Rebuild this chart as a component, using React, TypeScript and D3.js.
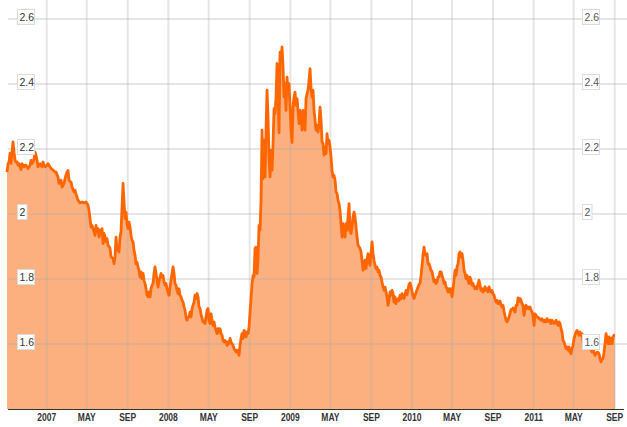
import React from "react";
import * as d3 from "d3";

// Series: one reading every 3 days starting 2006-09-04
const startDate = "2006-09-04";
const stepDays = 3;
const values: number[] = [
  2.129, 2.155, 2.16, 2.187, 2.156, 2.19, 2.222, 2.19, 2.165, 2.16,
  2.16, 2.15, 2.155, 2.145, 2.137, 2.155, 2.15, 2.145, 2.15, 2.15,
  2.145, 2.14, 2.145, 2.15, 2.165, 2.155, 2.16, 2.17, 2.19, 2.18,
  2.165, 2.145, 2.15, 2.155, 2.15, 2.145, 2.16, 2.15, 2.145, 2.148,
  2.15, 2.155, 2.15, 2.145, 2.14, 2.137, 2.135, 2.132, 2.13, 2.129,
  2.12, 2.114, 2.094, 2.1, 2.104, 2.083, 2.088, 2.094, 2.109, 2.12,
  2.129, 2.134, 2.104, 2.1, 2.098, 2.083, 2.075, 2.068, 2.073, 2.06,
  2.052, 2.042, 2.038, 2.034, 2.036, 2.037, 2.035, 2.034, 2.036, 2.037,
  2.032, 2.027, 2.011, 1.986, 1.96, 1.965, 1.955, 1.945, 1.934, 1.965,
  1.945, 1.955, 1.929, 1.95, 1.94, 1.955, 1.909, 1.94, 1.929, 1.914,
  1.924, 1.904, 1.9, 1.894, 1.868, 1.866, 1.863, 1.847, 1.868, 1.929,
  1.888, 1.898, 1.883, 1.929, 1.945, 2.022, 2.094, 2.037, 1.986, 2.006,
  1.97, 1.955, 1.975, 1.96, 1.934, 1.919, 1.914, 1.888, 1.873, 1.847,
  1.852, 1.837, 1.827, 1.806, 1.822, 1.801, 1.817, 1.796, 1.786, 1.77,
  1.75, 1.745, 1.76, 1.745, 1.77, 1.781, 1.786, 1.817, 1.837, 1.817,
  1.796, 1.775, 1.791, 1.806, 1.817, 1.806, 1.811, 1.791, 1.781, 1.786,
  1.77, 1.76, 1.75, 1.775, 1.796, 1.817, 1.837, 1.817, 1.786, 1.781,
  1.765, 1.755, 1.77, 1.75, 1.745, 1.734, 1.729, 1.714, 1.704, 1.683,
  1.673, 1.683, 1.683, 1.698, 1.683, 1.709, 1.719, 1.729, 1.75, 1.74,
  1.755, 1.745, 1.714, 1.71, 1.69, 1.68, 1.668, 1.668, 1.663, 1.683,
  1.704, 1.709, 1.673, 1.663, 1.693, 1.673, 1.657, 1.668, 1.652, 1.642,
  1.632, 1.647, 1.637, 1.647, 1.632, 1.627, 1.611, 1.606, 1.611, 1.606,
  1.596, 1.606, 1.601, 1.617, 1.606, 1.601, 1.596, 1.586, 1.581, 1.575,
  1.581, 1.575, 1.565, 1.596, 1.617, 1.632, 1.617, 1.642, 1.637, 1.622,
  1.637, 1.632, 1.652, 1.698, 1.74, 1.786, 1.811, 1.806, 1.894, 1.898,
  1.817, 1.858, 1.965, 1.95, 2.042, 2.258, 2.109, 2.227, 2.114, 2.258,
  2.381, 2.298, 2.175, 2.114, 2.196, 2.134, 2.217, 2.324, 2.309, 2.36,
  2.463, 2.381, 2.25, 2.498, 2.473, 2.514, 2.452, 2.36, 2.401, 2.319,
  2.421, 2.37, 2.401, 2.329, 2.258, 2.22, 2.329, 2.36, 2.375, 2.334,
  2.355, 2.319, 2.278, 2.319, 2.298, 2.258, 2.319, 2.278, 2.258, 2.355,
  2.37, 2.381, 2.411, 2.447, 2.385, 2.36, 2.381, 2.319, 2.288, 2.258,
  2.273, 2.252, 2.278, 2.329, 2.288, 2.222, 2.217, 2.181, 2.206, 2.186,
  2.247, 2.217, 2.227, 2.206, 2.175, 2.134, 2.114, 2.119, 2.104, 2.068,
  2.063, 2.042, 2.032, 2.011, 1.97, 1.929, 1.97, 1.94, 1.929, 1.97,
  1.95, 1.991, 2.032, 1.95, 1.94, 1.96, 1.991, 2.006, 1.991, 1.96,
  1.929, 1.904, 1.899, 1.894, 1.883, 1.858, 1.827, 1.837, 1.858, 1.832,
  1.858, 1.878, 1.853, 1.842, 1.878, 1.914, 1.878, 1.858, 1.842, 1.832,
  1.837, 1.822, 1.827, 1.811, 1.806, 1.791, 1.775, 1.765, 1.775, 1.76,
  1.745, 1.719, 1.734, 1.76, 1.75, 1.765, 1.755, 1.729, 1.745, 1.724,
  1.734, 1.739, 1.734, 1.75, 1.739, 1.755, 1.745, 1.74, 1.752, 1.765,
  1.752, 1.768, 1.783, 1.788, 1.778, 1.762, 1.748, 1.74, 1.75, 1.758,
  1.767, 1.775, 1.783, 1.786, 1.811, 1.842, 1.873, 1.898, 1.875, 1.873,
  1.878, 1.847, 1.847, 1.837, 1.827, 1.822, 1.806, 1.791, 1.796, 1.786,
  1.791, 1.806, 1.806, 1.822, 1.822, 1.811, 1.801, 1.786, 1.791, 1.776,
  1.77, 1.76, 1.77, 1.76, 1.77, 1.745, 1.77, 1.796, 1.827, 1.811,
  1.837, 1.847, 1.878, 1.883, 1.868, 1.878, 1.858, 1.827, 1.817, 1.801,
  1.811, 1.796, 1.786, 1.806, 1.796, 1.781, 1.786, 1.776, 1.77, 1.776,
  1.77, 1.786, 1.796, 1.781, 1.765, 1.77, 1.76, 1.765, 1.776, 1.765,
  1.77, 1.76, 1.776, 1.765, 1.76, 1.765, 1.755, 1.75, 1.739, 1.729,
  1.734, 1.724, 1.729, 1.732, 1.719, 1.714, 1.719, 1.701, 1.686, 1.673,
  1.668, 1.675, 1.683, 1.695, 1.706, 1.706, 1.711, 1.706, 1.698, 1.719,
  1.719, 1.742, 1.731, 1.74, 1.734, 1.724, 1.719, 1.688, 1.709, 1.719,
  1.709, 1.714, 1.709, 1.714, 1.704, 1.698, 1.688, 1.657, 1.693, 1.688,
  1.683, 1.683, 1.678, 1.678, 1.673, 1.678, 1.673, 1.668, 1.673, 1.668,
  1.678, 1.673, 1.668, 1.673, 1.663, 1.673, 1.668, 1.663, 1.668, 1.673,
  1.663, 1.657, 1.668, 1.663, 1.647, 1.637, 1.611, 1.606, 1.596, 1.586,
  1.591, 1.581, 1.591, 1.575, 1.57, 1.586, 1.596, 1.617, 1.627, 1.637,
  1.642, 1.637, 1.627, 1.637, 1.627, 1.632, 1.606, 1.6, 1.595, 1.59,
  1.59, 1.585, 1.59, 1.59, 1.58, 1.575, 1.59, 1.575, 1.565, 1.57,
  1.575, 1.575, 1.57, 1.555, 1.545, 1.555, 1.555, 1.575, 1.601, 1.632,
  1.617, 1.601, 1.622, 1.601, 1.617, 1.601, 1.622, 1.627, 1.627,
];

const yTicks = [1.6, 1.8, 2, 2.2, 2.4, 2.6];
const yTickLabels = ["1.6", "1.8", "2", "2.2", "2.4", "2.6"];
const xTickDates = [
  "2007-01-01", "2007-05-01", "2007-09-01",
  "2008-01-01", "2008-05-01", "2008-09-01",
  "2009-01-01", "2009-05-01", "2009-09-01",
  "2010-01-01", "2010-05-01", "2010-09-01",
  "2011-01-01", "2011-05-01", "2011-09-01",
];
const xTickLabels = [
  "2007", "MAY", "SEP", "2008", "MAY", "SEP", "2009", "MAY", "SEP",
  "2010", "MAY", "SEP", "2011", "MAY", "SEP",
];

const W = 627;
const H = 427;
const parse = (s: string) => {
  const [y, m, d] = s.split("-").map(Number);
  return new Date(y, m - 1, d);
};

export default function App() {
  const start = parse(startDate);
  const data = values.map((v, i) => ({ date: d3.timeDay.offset(start, i * stepDays), value: v }));
  const x = d3
    .scaleTime()
    .domain([parse(xTickDates[0]), parse(xTickDates[xTickDates.length - 1])])
    .range([46.7, 614.7]);
  const y = d3.scaleLinear().domain([1.4, 2.6]).range([409, 19]);

  const area = d3
    .area<{ date: Date; value: number }>()
    .x((d) => x(d.date))
    .y0(y(1.4))
    .y1((d) => y(d.value));
  const line = d3
    .line<{ date: Date; value: number }>()
    .x((d) => x(d.date))
    .y((d) => y(d.value));

  const font = "'Liberation Sans', Arial, sans-serif";
  const labelW = (t: string) => t.length === 1 ? 9.5 : 17;

  return (
    <svg width={W} height={H} style={{ position: "absolute", left: 0, top: 0, background: "#fff" }}>
      <path d={area(data) || ""} fill="#fcb080" />
      {yTicks.map((t) => (
        <line key={"h" + t} x1={8} x2={W} y1={y(t)} y2={y(t)} stroke="rgb(170,170,170)" strokeOpacity={0.3} strokeWidth={2} />
      ))}
      {xTickDates.map((s) => (
        <line key={"v" + s} x1={x(parse(s))} x2={x(parse(s))} y1={0} y2={409} stroke="rgb(170,170,170)" strokeOpacity={0.3} strokeWidth={2} />
      ))}
      <path d={line(data) || ""} fill="none" stroke="#ff6600" strokeWidth={2.8} strokeLinejoin="round" />
      <line x1={8} x2={624} y1={409.5} y2={409.5} stroke="#333" strokeWidth={1} />
      {xTickDates.map((s, i) => (
        <text
          key={"xl" + s}
          transform={`translate(${x(parse(s))},421) scale(0.85,1)`}
          textAnchor="middle"
          fontFamily={font}
          fontWeight="bold"
          fontSize={10}
          fill="#333"
        >
          {xTickLabels[i]}
        </text>
      ))}
      {yTicks.map((t, i) => {
        const lab = yTickLabels[i];
        const gy = y(t);
        return (
          <g key={"yl" + t}>
            <rect x={17.5} y={gy - 9.5} width={labelW(lab)} height={15} fill="#fff" stroke="#dcdcdc" strokeWidth={1} />
            <text x={19.5} y={gy + 1.8} fontFamily={font} fontSize={10.5} fill="#333">{lab}</text>
            <rect x={582.5} y={gy - 9.5} width={labelW(lab)} height={15} fill="#fff" stroke="#dcdcdc" strokeWidth={1} />
            <text x={584.5} y={gy + 1.8} fontFamily={font} fontSize={10.5} fill="#555">{lab}</text>
          </g>
        );
      })}
    </svg>
  );
}
